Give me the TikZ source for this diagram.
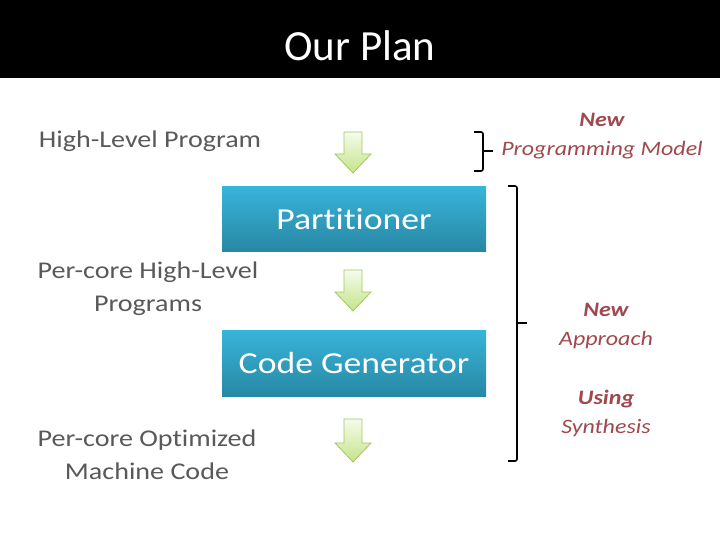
\documentclass[tikz,border=0pt]{standalone}
\usepackage{fontspec}
\setmainfont{Carlito}[FakeStretch=1.17,Ligatures=NoCommon]
\newfontfamily\titlefont{Carlito}[Ligatures=NoCommon]
\usetikzlibrary{positioning}
\definecolor{planred}{RGB}{160,72,78}
\definecolor{labelgray}{RGB}{89,89,89}
\definecolor{boxtop}{RGB}{56,180,218}
\definecolor{boxbot}{RGB}{40,136,164}
\definecolor{arrtop}{RGB}{246,251,236}
\definecolor{arrbot}{RGB}{196,228,136}
\definecolor{arredge}{RGB}{160,200,100}

\begin{document}
\begin{tikzpicture}[x=1pt,y=-1pt,
 lbl/.style={text=labelgray,align=center,font=\fontsize{24}{33}\selectfont},
 box/.style={top color=boxtop,bottom color=boxbot,minimum width=264pt,minimum height=64pt,text=white,font=\fontsize{30.5}{36}\selectfont},
 note/.style={text=planred,align=center,font=\fontsize{20.5}{29}\selectfont\itshape},
 brc/.style={line width=1.6pt,rounded corners=2pt},
 garrow/.style={top color=arrtop,bottom color=arrbot,draw=arredge,line width=0.8pt}]
\useasboundingbox (0,0) rectangle (720,540);
% title band
\fill[black] (0,0) rectangle (720,78);
\node[text=white,font=\titlefont\fontsize{43}{50}\selectfont] (title) at (360,46) {Our Plan};
% left labels
\node[lbl] (hlp) at (150,141) {High-Level Program};
\node[lbl] (pcp) at (148,289) {Per-core High-Level\\Programs};
\node[lbl] (pcm) at (147,455) {Per-core Optimized\\Machine Code};
% stages
\node[box] (part) at (354,219) {Partitioner};
\node[box,minimum height=66pt] (cgen) at (354,363) {Code Generator};
% block arrows
\foreach \t/\b in {132/173,270/311,419/462}
  \draw[garrow] (344,\t) -- (362,\t) -- (362,\b-19) -- (371,\b-19) -- (353,\b)
    -- (335,\b-19) -- (344,\b-19) -- cycle;
% braces
\coordinate (sbt) at (483,132);
\coordinate (sbb) at (483,171);
\coordinate (sbm) at (483,151);
\draw[brc] ([xshift=-9pt]sbt) -- (sbt) -- (sbb) -- ([xshift=-9pt]sbb);
\draw[brc] (sbm) -- ([xshift=10pt]sbm);
\coordinate (bbt) at (517,186);
\coordinate (bbb) at (517,461);
\coordinate (bbm) at (517,323);
\draw[brc] ([xshift=-9pt]bbt) -- (bbt) -- (bbb) -- ([xshift=-9pt]bbb);
\draw[brc] (bbm) -- ([xshift=10pt]bbm);
% notes
\node[note] (model) at (602,136) {\textbf{New}\\Programming Model};
\node[note] (appr) at (606,326) {\textbf{New}\\Approach};
\node[note] (synth) at (606,413) {\textbf{Using}\\Synthesis};
\end{tikzpicture}
\end{document}
